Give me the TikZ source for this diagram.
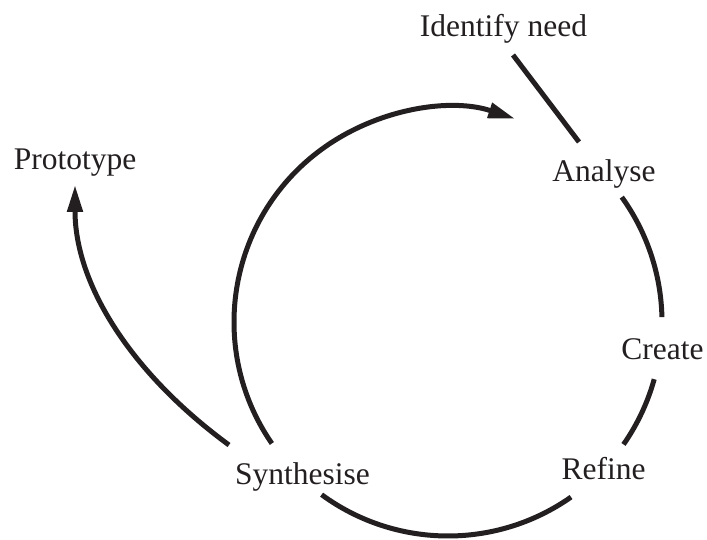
\documentclass[tikz,border=0pt]{standalone}
\usepackage{fontspec}
\setmainfont{Liberation Serif}
\usetikzlibrary{arrows.meta,calc}
\definecolor{ink}{RGB}{35,31,32}
\begin{document}
\begin{tikzpicture}[x=1pt,y=1pt,
  lbl/.style={font=\fontsize{31.5}{36}\selectfont, text=ink, inner sep=0pt, anchor=base},
  conn/.style={draw=ink, line width=5pt},
  arr/.style={conn, -{Triangle[length=27pt,width=15pt]}}]
\useasboundingbox (0,0) rectangle (707,540);
% labels
\node[lbl] (idn) at (503.5,503) {Identify need};
\node[lbl] (ana) at (604,358) {Analyse};
\node[lbl] (pro) at (75,370) {Prototype};
\node[lbl] (cre) at (662.5,180) {Create};
\node[lbl] (syn) at (302.5,55) {Synthesise};
\node[lbl] (ref) at (603.5,60) {Refine};
% cycle centre
\coordinate (c) at (448,218);
\def\R{214}
% Identify need -- Analyse
\coordinate (idnEnd) at (513,485);
\coordinate (anaTop) at (579,398);
\draw[conn] (idnEnd) -- (anaTop);
% Analyse -- Create
\draw[conn] ($(c)+(35.7:\R)$) arc[start angle=35.7, end angle=1.3, radius=\R];
% Create -- Refine
\draw[conn] ($(c)+(-15.5:\R)$) arc[start angle=-15.5, end angle=-34.9, radius=\R];
% Refine -- Synthesise
\draw[conn] ($(c)+(-54.9:\R)$) arc[start angle=-54.9, end angle=-126.2, radius=\R];
% Synthesise -- back to Analyse (arrow)
\draw[arr] ($(c)+(214.6:\R)$) arc[start angle=214.6, end angle=71.7, radius=\R];
% Synthesise -- Prototype
\coordinate (synL) at (229,95);
\coordinate (proTip) at (75,355);
\draw[arr] (synL) .. controls (132,166) and (75,255) .. (proTip);
\end{tikzpicture}
\end{document}
